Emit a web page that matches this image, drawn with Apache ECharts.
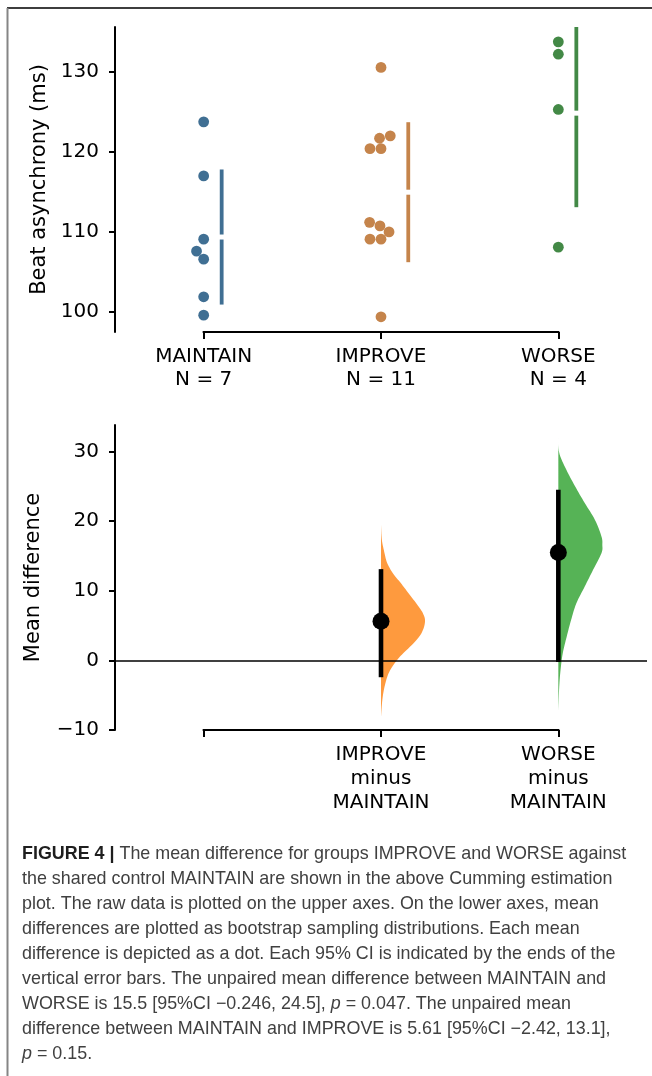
<!DOCTYPE html>
<html>
<head>
<meta charset="utf-8">
<script src="https://cdn.jsdelivr.net/npm/echarts@6/dist/echarts.min.js"></script>
<style>
  html, body { margin: 0; padding: 0; background: #fff; }
  #chart { width: 652px; height: 1076px; }
</style>
</head>
<body>
<div id="chart"></div>
<script>
// ---- Raw observations (beat asynchrony, ms) ----
const groups = ['MAINTAIN', 'IMPROVE', 'WORSE'];
const maintainValues = [123.75, 117.0, 109.1, 107.6, 106.6, 101.9, 99.6];
const improveValues = [130.55, 122.0, 121.7, 120.4, 120.4, 111.2, 110.75, 110.0, 109.1, 109.1, 99.4];
const worseValues = [133.75, 132.2, 125.3, 108.1];
const rawTicks = [100, 110, 120, 130];

// ---- Mean differences vs. shared control MAINTAIN ----
const diffLabels = ['', 'IMPROVE\nminus\nMAINTAIN', 'WORSE\nminus\nMAINTAIN'];
const diffGroupIndex = [1, 2];
const diffMean = [5.61, 15.5];
const diffCiLow = [-2.42, -0.246];
const diffCiHigh = [13.1, 24.5];
const diffTicks = [-10, 0, 10, 20, 30];

// ---- Bootstrap sampling distributions (value, relative density) ----
const improveKdeY = [19.5, 17.3, 15.4, 14.0, 12.5, 11.1, 9.6, 8.2, 6.8, 5.55, 3.9, 2.45, 1.0, -0.4, -1.9, -3.8, -5.7, -8.1];
const improveKdeDensity = [0, 0.02, 0.08, 0.14, 0.27, 0.45, 0.63, 0.8, 0.95, 1, 0.92, 0.74, 0.5, 0.31, 0.17, 0.08, 0.03, 0];
const worseKdeY = [32.2, 29.8, 27.4, 25.0, 22.6, 20.2, 17.8, 16.6, 15.4, 13.0, 10.6, 8.2, 5.8, 3.4, 1.0, -1.4, -3.8, -7.2];
const worseKdeDensity = [0, 0.02, 0.18, 0.38, 0.6, 0.83, 0.98, 1, 0.98, 0.79, 0.6, 0.41, 0.29, 0.19, 0.1, 0.05, 0.02, 0];

// ---- Styling ----
const FONT = 'DejaVu Sans';
const groupColors = ['#406f93', '#c5844b', '#438946'];
const violinColors = ['#fe9a3e', '#56b356'];
const DOT_R = 5.4;          // swarm dot radius (px)
const SWARM_D = 10.5;       // swarm collision distance (px)
const BAR_OFFSET = 18;      // gap between swarm edge and mean±sd bar (px)
const BAR_GAP = 5;          // gap at the mean (px)
const VIOLIN_W = 44;        // half-violin max width (px)

const rawSets = [maintainValues, improveValues, worseValues];
const kdeSets = { 1: { y: improveKdeY, d: improveKdeDensity }, 2: { y: worseKdeY, d: worseKdeDensity } };

function meanOf(a) { return a.reduce((s, v) => s + v, 0) / a.length; }
function sdOf(a) {
  const m = meanOf(a);
  return Math.sqrt(a.reduce((s, v) => s + (v - m) * (v - m), 0) / (a.length - 1));
}
const stats = rawSets.map(a => { const m = meanOf(a), s = sdOf(a); return [m - s, m, m + s]; });

// Beeswarm placement (pixel space): each point goes to the candidate
// position closest to the midline that does not collide with placed points.
function beeswarm(pixYs, d) {
  const order = pixYs.map((_, i) => i).sort((a, b) => pixYs[b] - pixYs[a]);
  const placed = [];
  const out = new Array(pixYs.length).fill(0);
  order.forEach(idx => {
    const y = -pixYs[idx];
    const nb = [];
    for (let j = placed.length - 1; j >= 0; j--) {
      if (y - placed[j].y < d) nb.unshift(placed[j]); else break;
    }
    const cands = [0];
    let leftFirst = true;
    nb.forEach(p => {
      const dy = y - p.y;
      const dx = Math.sqrt(Math.max(d * d - dy * dy, 0)) * 1.05;
      if (leftFirst) cands.push(p.x - dx, p.x + dx); else cands.push(p.x + dx, p.x - dx);
      leftFirst = !leftFirst;
    });
    const sorted = cands.map((c, i) => [c, i]).sort((a, b) => (Math.abs(a[0]) - Math.abs(b[0])) || (a[1] - b[1]));
    let chosen = sorted[0][0];
    for (const [c] of sorted) {
      if (nb.every(p => (p.x - c) * (p.x - c) + (p.y - y) * (p.y - y) >= d * d - 1e-9)) { chosen = c; break; }
    }
    placed.push({ x: chosen, y });
    out[idx] = chosen;
  });
  return out;
}
function groupOffsets(api, g) {
  return beeswarm(rawSets[g].map(v => api.coord([g, v])[1]), SWARM_D);
}

// Catmull-Rom smoothing of a polyline for the violin outline
function smoothPath(pts, steps) {
  const out = [];
  for (let i = 0; i < pts.length - 1; i++) {
    const p0 = pts[Math.max(i - 1, 0)], p1 = pts[i], p2 = pts[i + 1], p3 = pts[Math.min(i + 2, pts.length - 1)];
    for (let s = 0; s < steps; s++) {
      const t = s / steps, t2 = t * t, t3 = t2 * t;
      const f = k => 0.5 * ((2 * p1[k]) + (-p0[k] + p2[k]) * t + (2 * p0[k] - 5 * p1[k] + 4 * p2[k] - p3[k]) * t2 + (-p0[k] + 3 * p1[k] - 3 * p2[k] + p3[k]) * t3);
      out.push([f(0), f(1)]);
    }
  }
  out.push(pts[pts.length - 1]);
  return out;
}

const swarmData = [];
rawSets.forEach((vals, g) => vals.forEach((v, i) => swarmData.push([g, v, i])));

const axisLineStyle = { color: '#000', width: 2 };
const labelStyle = { fontFamily: FONT, fontSize: 20, color: '#000' };
const nameStyle = { fontFamily: FONT, fontSize: 21, color: '#000' };
const minus = v => String(v).replace('-', '\u2212');

function bracket(yMin) {
  return (params, api) => {
    const a = api.coord([0, yMin]), b = api.coord([2, yMin]);
    return { type: 'line', shape: { x1: a[0] - 1, y1: a[1], x2: b[0] + 1, y2: b[1] }, style: { stroke: '#000', lineWidth: 2 } };
  };
}

const RAW_MIN = 97.5, RAW_MAX = 135.6;
const DIFF_MIN = -10, DIFF_MAX = 33.8;

const captionLines = [
  '{b|FIGURE 4 |} The mean difference for groups IMPROVE and WORSE against',
  'the shared control MAINTAIN are shown in the above Cumming estimation',
  'plot. The raw data is plotted on the upper axes. On the lower axes, mean',
  'differences are plotted as bootstrap sampling distributions. Each mean',
  'difference is depicted as a dot. Each 95% CI is indicated by the ends of the',
  'vertical error bars. The unpaired mean difference between MAINTAIN and',
  'WORSE is 15.5 [95%CI \u22120.246, 24.5], {i|p} = 0.047. The unpaired mean',
  'difference between MAINTAIN and IMPROVE is 5.61 [95%CI \u22122.42, 13.1],',
  '{i|p} = 0.15.'
];
const CAP_SIZE = 17.9;

const chart = echarts.init(document.getElementById('chart'), null, { renderer: 'canvas' });
chart.setOption({
  animation: false,
  backgroundColor: '#fff',
  grid: [
    { left: 115, right: 5, top: 27, height: 305 },
    { left: 115, right: 5, top: 425, height: 305 }
  ],
  xAxis: [
    {
      type: 'category', gridIndex: 0, data: groups,
      axisLine: { show: false, onZero: false },
      axisTick: { show: true, alignWithLabel: true, length: 7, lineStyle: axisLineStyle },
      axisLabel: Object.assign({ margin: 13, lineHeight: 23, interval: 0,
        formatter: (v, i) => v + '\nN = ' + rawSets[i].length }, labelStyle),
      splitLine: { show: false }
    },
    {
      type: 'category', gridIndex: 1, data: groups,
      axisLine: { show: false, onZero: false },
      axisTick: { show: true, alignWithLabel: true, length: 7, lineStyle: axisLineStyle },
      axisLabel: Object.assign({ margin: 13, lineHeight: 24, interval: 0,
        formatter: (v, i) => diffLabels[i] }, labelStyle),
      splitLine: { show: false }
    }
  ],
  yAxis: [
    {
      type: 'value', gridIndex: 0, min: RAW_MIN, max: RAW_MAX,
      name: 'Beat asynchrony (ms)', nameLocation: 'middle', nameGap: 64,
      nameTextStyle: nameStyle,
      axisLine: { show: true, lineStyle: axisLineStyle },
      axisTick: { show: true, length: 6, lineStyle: axisLineStyle, customValues: rawTicks },
      axisLabel: Object.assign({ margin: 16, customValues: rawTicks, formatter: minus }, labelStyle),
      splitLine: { show: false }
    },
    {
      type: 'value', gridIndex: 1, min: DIFF_MIN, max: DIFF_MAX,
      name: 'Mean difference', nameLocation: 'middle', nameGap: 71,
      nameTextStyle: nameStyle,
      axisLine: { show: true, lineStyle: axisLineStyle },
      axisTick: { show: true, length: 6, lineStyle: axisLineStyle, customValues: diffTicks },
      axisLabel: Object.assign({ margin: 16, customValues: diffTicks, formatter: minus }, labelStyle),
      splitLine: { show: false }
    }
  ],
  series: [
    // raw data swarm
    {
      type: 'custom', xAxisIndex: 0, yAxisIndex: 0, z: 3,
      data: swarmData, encode: { x: 0, y: 1 },
      renderItem: (params, api) => {
        const g = api.value(0), v = api.value(1), i = api.value(2);
        const off = groupOffsets(api, g)[i];
        const p = api.coord([g, v]);
        return { type: 'circle', shape: { cx: p[0] + off, cy: p[1], r: DOT_R }, style: { fill: groupColors[g] } };
      }
    },
    // mean ± sd gapped bars
    {
      type: 'custom', xAxisIndex: 0, yAxisIndex: 0, z: 3, clip: true,
      data: stats.map((s, g) => [g, s[0], s[1], s[2]]), encode: { x: 0, y: [1, 2, 3] },
      renderItem: (params, api) => {
        const g = api.value(0);
        const offs = groupOffsets(api, g);
        const x = api.coord([g, api.value(2)])[0] + Math.max(0, ...offs) + BAR_OFFSET;
        const yLow = api.coord([g, api.value(1)])[1];
        const yMean = api.coord([g, api.value(2)])[1];
        const yHigh = api.coord([g, api.value(3)])[1];
        const st = { stroke: groupColors[g], lineWidth: 3.8 };
        return { type: 'group', children: [
          { type: 'line', shape: { x1: x, y1: yLow, x2: x, y2: yMean + BAR_GAP / 2 }, style: st },
          { type: 'line', shape: { x1: x, y1: yMean - BAR_GAP / 2, x2: x, y2: yHigh }, style: st }
        ] };
      }
    },
    // raw axes bottom bracket
    {
      type: 'custom', xAxisIndex: 0, yAxisIndex: 0, z: 2,
      data: [[0, RAW_MIN]], encode: { x: 0, y: 1 }, renderItem: bracket(RAW_MIN)
    },
    // half-violin bootstrap distributions
    {
      type: 'custom', xAxisIndex: 1, yAxisIndex: 1, z: 1,
      data: diffGroupIndex.map((g, k) => [g, diffMean[k]]), encode: { x: 0, y: 1 },
      renderItem: (params, api) => {
        const g = api.value(0);
        const kde = kdeSets[g];
        const prof = kde.y.map((v, k) => { const p = api.coord([g, v]); return [p[0] + kde.d[k] * VIOLIN_W, p[1]]; });
        const pts = smoothPath(prof, 8);
        const top = api.coord([g, kde.y[0]]);
        const bot = api.coord([g, kde.y[kde.y.length - 1]]);
        pts.unshift(top); pts.push(bot);
        return { type: 'polygon', shape: { points: pts }, style: { fill: violinColors[g - 1] } };
      }
    },
    // 95% CI lines
    {
      type: 'custom', xAxisIndex: 1, yAxisIndex: 1, z: 5,
      data: diffGroupIndex.map((g, k) => [g, diffCiLow[k], diffCiHigh[k]]), encode: { x: 0, y: [1, 2] },
      renderItem: (params, api) => {
        const g = api.value(0);
        const a = api.coord([g, api.value(1)]), b = api.coord([g, api.value(2)]);
        return { type: 'line', shape: { x1: a[0], y1: a[1], x2: b[0], y2: b[1] }, style: { stroke: '#000', lineWidth: 4.6 } };
      }
    },
    // mean difference dots + zero reference line
    {
      type: 'scatter', xAxisIndex: 1, yAxisIndex: 1, z: 6,
      symbol: 'circle', symbolSize: 17,
      itemStyle: { color: '#000', opacity: 1 },
      data: diffGroupIndex.map((g, k) => [g, diffMean[k]]),
      markLine: {
        silent: true, symbol: 'none', label: { show: false },
        lineStyle: { color: '#000', width: 1.5, type: 'solid', opacity: 1 },
        emphasis: { disabled: true },
        data: [{ yAxis: 0 }]
      }
    },
    // difference axes bottom bracket
    {
      type: 'custom', xAxisIndex: 1, yAxisIndex: 1, z: 2,
      data: [[0, DIFF_MIN]], encode: { x: 0, y: 1 }, renderItem: bracket(DIFF_MIN)
    }
  ],
  graphic: [
    { type: 'line', shape: { x1: 7, y1: 8, x2: 652, y2: 8 }, style: { stroke: '#3d3d3d', lineWidth: 2 } },
    { type: 'line', shape: { x1: 7.5, y1: 8, x2: 7.5, y2: 1076 }, style: { stroke: '#858585', lineWidth: 2 } }
  ].concat(captionLines.map((t, k) => ({
    type: 'text', left: 22, top: 845 + k * 25,
    style: {
      text: t, fontFamily: 'Liberation Sans', fontSize: CAP_SIZE, fill: '#404040',
      rich: {
        b: { fontFamily: 'Liberation Sans', fontSize: CAP_SIZE, fontWeight: 'bold', fill: '#1e1e1e' },
        i: { fontFamily: 'Liberation Sans', fontSize: CAP_SIZE, fontStyle: 'italic', fill: '#404040' }
      }
    }
  })))
});
</script>
</body>
</html>
